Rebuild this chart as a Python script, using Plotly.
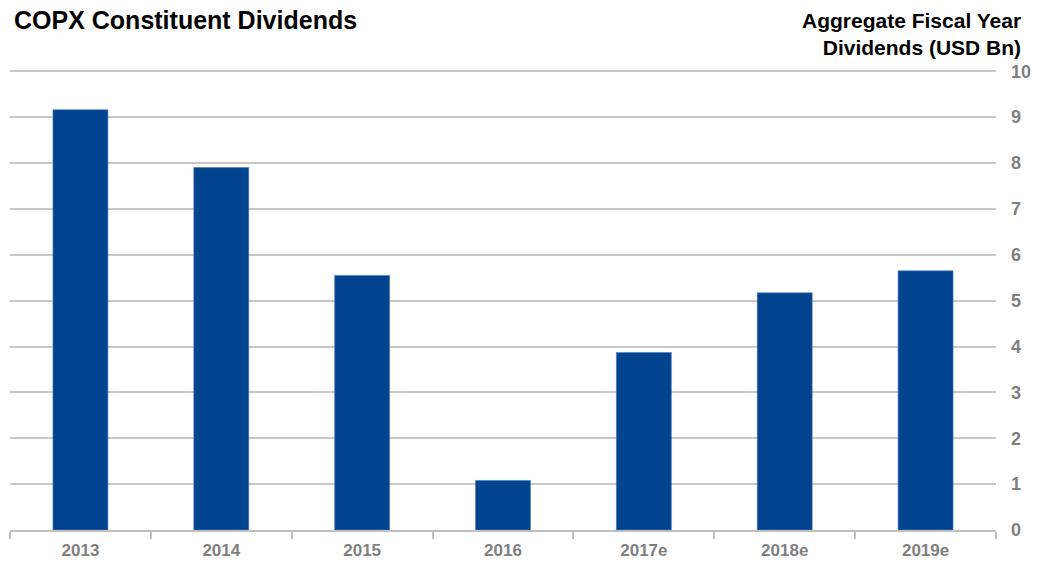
import plotly.graph_objects as go

categories = ["2013", "2014", "2015", "2016", "2017e", "2018e", "2019e"]
dividends = [9.16, 7.9, 5.55, 1.08, 3.87, 5.17, 5.65]
y_ticks = list(range(0, 11))

FONT = "Liberation Sans, Arial, sans-serif"

fig = go.Figure()
fig.add_trace(go.Bar(
    x=categories, y=dividends,
    marker=dict(color="#00438e", line=dict(color="#4a78b0", width=0.6)),
    width=0.39,
))

L, R, T, B = 10, 42, 69, 33
W, H = 1038, 563
pw = W - L - R
ph = H - T - B

def px_to_paper(px, py):
    return (px - L) / pw, 1 + (T - py) / ph

tx, ty = px_to_paper(12, 20)
ax_x, ax_y = px_to_paper(1023, 34)

fig.update_layout(
    width=W, height=H,
    margin=dict(l=L, r=R, t=T, b=B, autoexpand=False),
    plot_bgcolor="white", paper_bgcolor="white",
    showlegend=False,
    font=dict(family=FONT),
    xaxis=dict(
        type="category",
        automargin=False,
        showgrid=False,
        showline=True, linecolor="#c0c0c0", linewidth=1.5,
        ticks="outside", tickson="boundaries", ticklen=7, tickcolor="#c0c0c0", tickwidth=1.5,
        ticklabelstandoff=4,
        tickfont=dict(size=17, color="#7f7f7f", family=FONT, weight="bold"),
        range=[-0.5, 6.5],
    ),
    yaxis=dict(
        side="right",
        automargin=False,
        range=[0, 10.05],
        tickvals=y_ticks,
        showgrid=True, gridcolor="#c8c8c8", gridwidth=1.5,
        zeroline=False,
        showline=False,
        ticks="",
        ticklabelstandoff=14,
        tickfont=dict(size=18, color="#7f7f7f", family=FONT, weight="bold"),
    ),
    annotations=[
        dict(text="<b>COPX Constituent Dividends</b>", x=tx, y=ty, xref="paper", yref="paper",
             showarrow=False, xanchor="left", yanchor="middle",
             font=dict(size=25, color="black", family=FONT)),
        dict(text="<b>Aggregate Fiscal Year<br>Dividends (USD Bn)</b>", x=ax_x, y=ax_y,
             xref="paper", yref="paper",
             showarrow=False, xanchor="right", yanchor="middle", align="right",
             font=dict(size=21, color="black", family=FONT)),
    ],
)

fig.write_html("out.html")
